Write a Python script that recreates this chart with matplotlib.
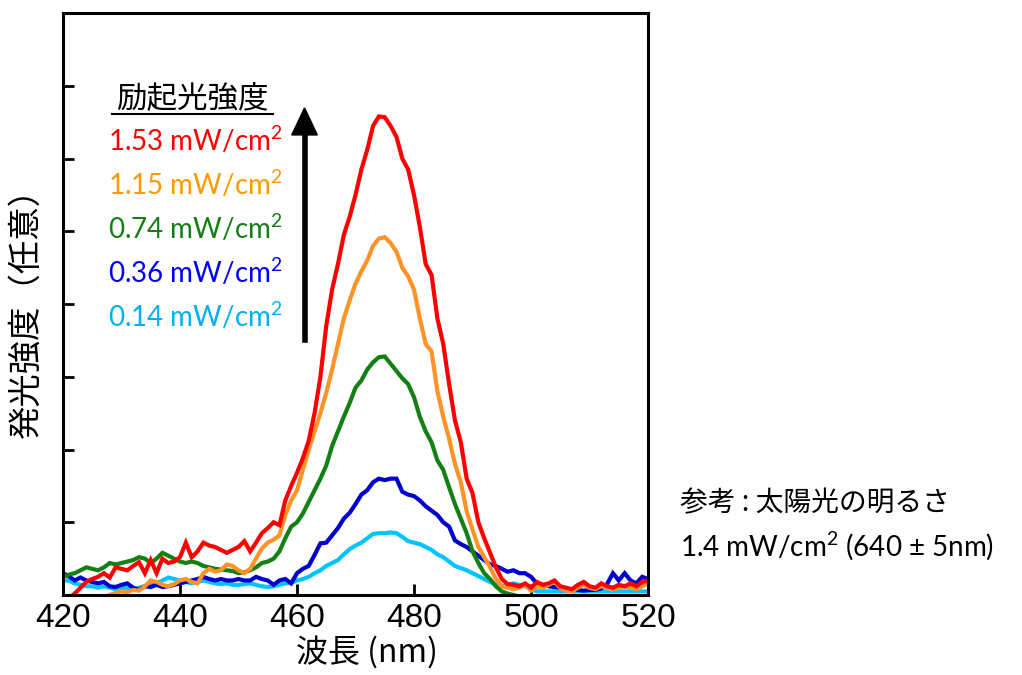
import numpy as np
import matplotlib
matplotlib.use('Agg')
import matplotlib.pyplot as plt
from matplotlib.lines import Line2D
from matplotlib.patches import FancyArrow

plt.rcParams['font.family'] = ['Noto Sans CJK JP', 'DejaVu Sans']
plt.rcParams['mathtext.fontset'] = 'custom'
plt.rcParams['mathtext.rm'] = 'Lato'

# wavelength grid (nm), 1 nm steps
wavelength = np.arange(420, 521)

red = [-0.15, -0.05, 0.02, 0.1, 0.18, 0.22, 0.25, 0.3, 0.24, 0.38,
       0.36, 0.34, 0.4, 0.45, 0.3, 0.48, 0.3, 0.5, 0.44, 0.46,
       0.52, 0.72, 0.52, 0.6, 0.72, 0.68, 0.66, 0.62, 0.58, 0.62,
       0.66, 0.74, 0.6, 0.72, 0.85, 0.92, 1.0, 0.96, 1.3, 1.5,
       1.68, 1.88, 2.12, 2.5, 3.0, 3.7, 4.2, 4.55, 4.95, 5.2,
       5.5, 5.85, 6.12, 6.45, 6.58, 6.57, 6.45, 6.3, 6.0, 5.85,
       5.5, 5.06, 4.55, 4.4, 3.8, 3.45, 2.9, 2.4, 2.1, 1.6,
       1.4, 1.0, 0.78, 0.58, 0.38, 0.22, 0.15, 0.14, 0.12, 0.16,
       0.1, 0.18, 0.14, 0.16, 0.2, 0.12, 0.1, 0.08, 0.14, 0.18,
       0.12, 0.1, 0.16, 0.12, 0.1, 0.14, 0.12, 0.16, 0.12, 0.18,
       0.2]

orange = [-0.3, -0.3, -0.25, -0.2, -0.15, -0.1, -0.05, -0.02, 0.0, 0.03,
          0.05, 0.04, 0.07, 0.06, 0.12, 0.2, 0.18, 0.14, 0.12, 0.15,
          0.2, 0.22, 0.18, 0.16, 0.3, 0.36, 0.32, 0.34, 0.42, 0.4,
          0.34, 0.3, 0.36, 0.5, 0.64, 0.72, 0.76, 0.82, 1.1, 1.3,
          1.44, 1.72, 2.0, 2.25, 2.5, 2.78, 3.1, 3.45, 3.8, 4.05,
          4.28, 4.45, 4.6, 4.8, 4.9, 4.92, 4.84, 4.72, 4.5, 4.38,
          4.2, 3.8, 3.45, 3.35, 2.8, 2.45, 2.15, 1.8, 1.55, 1.15,
          0.9, 0.66, 0.52, 0.38, 0.22, 0.12, 0.1, 0.08, 0.1, 0.14,
          0.06, 0.12, 0.1, 0.14, 0.18, 0.1, 0.06, 0.05, 0.1, 0.14,
          0.1, 0.08, 0.12, 0.1, 0.08, 0.1, 0.12, 0.1, 0.08, 0.12,
          0.16]

green = [0.25, 0.28, 0.3, 0.34, 0.38, 0.36, 0.34, 0.38, 0.44, 0.42,
         0.44, 0.46, 0.48, 0.52, 0.5, 0.44, 0.5, 0.58, 0.54, 0.5,
         0.46, 0.44, 0.46, 0.44, 0.4, 0.38, 0.36, 0.35, 0.34, 0.33,
         0.3, 0.31, 0.34, 0.38, 0.44, 0.46, 0.5, 0.6, 0.78, 0.94,
         1.0, 1.12, 1.28, 1.44, 1.6, 1.78, 2.05, 2.25, 2.45, 2.64,
         2.85, 2.95, 3.1, 3.2, 3.27, 3.28, 3.18, 3.08, 2.98, 2.9,
         2.72, 2.45, 2.25, 2.1, 1.85, 1.72, 1.48, 1.25, 1.05, 0.85,
         0.6, 0.44, 0.3, 0.22, 0.12, 0.05, 0.02, 0.0, -0.02, -0.02,
         -0.03, -0.02, -0.03, -0.02, -0.02, -0.03, -0.02, -0.03, -0.02, -0.02,
         -0.03, -0.02, -0.02, -0.03, -0.02, -0.03, -0.02, -0.02, -0.03, -0.02,
         -0.02]

blue = [0.3, 0.26, 0.2, 0.24, 0.2, 0.18, 0.16, 0.18, 0.12, 0.11,
        0.14, 0.16, 0.1, 0.07, 0.12, 0.11, 0.14, 0.11, 0.12, 0.14,
        0.16, 0.18, 0.2, 0.22, 0.25, 0.22, 0.2, 0.22, 0.2, 0.2,
        0.22, 0.2, 0.2, 0.25, 0.22, 0.2, 0.14, 0.2, 0.22, 0.16,
        0.3, 0.36, 0.4, 0.55, 0.71, 0.72, 0.82, 0.92, 1.05, 1.13,
        1.25, 1.38, 1.44, 1.55, 1.6, 1.58, 1.6, 1.6, 1.42, 1.38,
        1.36, 1.3, 1.22, 1.16, 1.1, 1.0, 0.94, 0.75, 0.7, 0.66,
        0.6, 0.54, 0.48, 0.42, 0.4, 0.36, 0.32, 0.34, 0.3, 0.3,
        0.25, 0.16, 0.14, 0.12, 0.11, 0.1, 0.07, 0.08, 0.07, 0.06,
        0.07, 0.07, 0.09, 0.15, 0.3, 0.2, 0.3, 0.2, 0.16, 0.25,
        0.22]

cyan = [0.2, 0.2, 0.16, 0.14, 0.12, 0.12, 0.1, 0.12, 0.1, 0.08,
        0.1, 0.1, 0.08, 0.1, 0.12, 0.14, 0.16, 0.2, 0.24, 0.22,
        0.2, 0.18, 0.16, 0.18, 0.2, 0.18, 0.16, 0.15, 0.16, 0.14,
        0.14, 0.15, 0.16, 0.14, 0.12, 0.11, 0.12, 0.14, 0.16, 0.17,
        0.2, 0.22, 0.25, 0.3, 0.34, 0.4, 0.44, 0.48, 0.56, 0.63,
        0.68, 0.72, 0.78, 0.84, 0.85, 0.85, 0.86, 0.85, 0.8, 0.74,
        0.72, 0.7, 0.66, 0.62, 0.56, 0.52, 0.46, 0.4, 0.37, 0.34,
        0.3, 0.26, 0.22, 0.18, 0.14, 0.12, 0.14, 0.16, 0.14, 0.12,
        0.08, 0.05, 0.05, 0.05, 0.05, 0.05, 0.05, 0.05, 0.05, 0.05,
        0.05, 0.05, 0.05, 0.05, 0.05, 0.05, 0.05, 0.05, 0.05, 0.05,
        0.05]

intensity_labels = ['1.53 mW/cm$^\\mathrm{2}$', '1.15 mW/cm$^\\mathrm{2}$', '0.74 mW/cm$^\\mathrm{2}$',
                    '0.36 mW/cm$^\\mathrm{2}$', '0.14 mW/cm$^\\mathrm{2}$']
line_colors = ['#ff0000', '#ff9326', '#138013', '#0000cc', '#00c4ff']
text_colors = ['#ff0000', '#ff9900', '#138013', '#0000ff', '#00b0f0']
xticks = [420, 440, 460, 480, 500, 520]

fig = plt.figure(figsize=(10.22, 6.75), dpi=100)
ax = fig.add_axes([0.0616, 0.1185, 0.5725, 0.862])

# draw from weakest to strongest so red ends up on top
for series, col in zip([cyan, blue, green, orange, red], line_colors[::-1]):
    ax.plot(wavelength, series, color=col, lw=3, solid_joinstyle='miter')

ax.set_xlim(420, 520)
ax.set_ylim(0, 8)
ax.set_xticks(xticks)
ax.set_xticklabels([str(t) for t in xticks], fontsize=24, family='Liberation Sans')
ax.set_yticks(range(1, 8))
ax.set_yticklabels([])
ax.tick_params(direction='in', length=8, width=2, pad=6)
for sp in ax.spines.values():
    sp.set_linewidth(2.2)

ax.set_xlabel('波長 (nm)', fontsize=23, labelpad=2)
ax.xaxis.set_label_coords(0.52, -0.072)
ax.set_ylabel('発光強度（任意）', fontsize=24, labelpad=8)

# legend-like text block
fig.text(0.188, 0.853, '励起光強度', fontsize=22, ha='center', va='center', color='black')
fig.add_artist(Line2D([0.110, 0.267], [0.831, 0.831], color='black', lw=1.5))
for i, (lab, col) in enumerate(zip(intensity_labels, text_colors)):
    fig.text(0.106, 0.792 - i * 0.0652, lab, fontsize=20, color=col, va='center',
             family=['Lato', 'Noto Sans CJK JP'])

fig.add_artist(Line2D([0.298, 0.298], [0.496, 0.81], color='black', lw=4))
fig.add_artist(FancyArrow(0.298, 0.80, 0, 0.0001, width=0, head_width=0.025,
                          head_length=0.04, color='black', transform=fig.transFigure))

# side note
fig.text(0.665, 0.255, '参考 : 太陽光の明るさ', fontsize=20, va='center')
fig.text(0.665, 0.19, '1.4 mW/cm$^\\mathrm{2}$ (640 ± 5nm)', fontsize=20, va='center',
         family=['Lato', 'Noto Sans CJK JP'])

fig.savefig('out.png', dpi=100)
